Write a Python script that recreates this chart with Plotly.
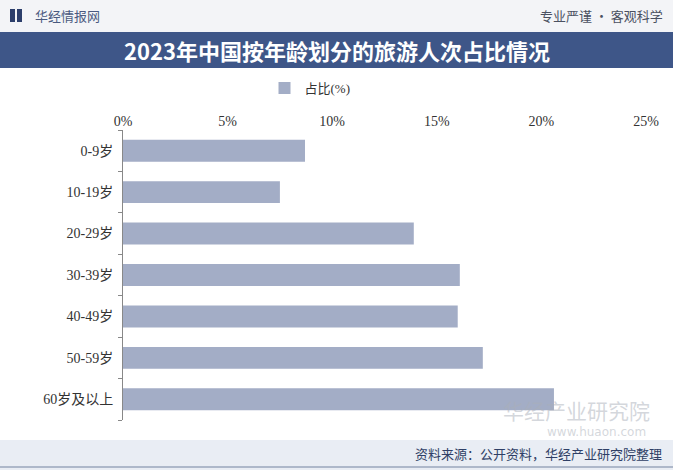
import plotly.graph_objects as go

categories = ["0-9岁", "10-19岁", "20-29岁", "30-39岁", "40-49岁", "50-59岁", "60岁及以上"]
values = [8.7, 7.5, 13.9, 16.1, 16.0, 17.2, 20.6]
series_name = "占比(%)"
x_ticks = [0, 5, 10, 15, 20, 25]
x_tick_labels = ["0%", "5%", "10%", "15%", "20%", "25%"]

title_text = "2023年中国按年龄划分的旅游人次占比情况"
source_text = "资料来源：公开资料，华经产业研究院整理"

W, H = 673, 470
L, R, T, B = 123, 27, 130, 50
PW, PH = W - L - R, H - T - B
bar_color = "#a3adc6"
navy = "#3e5688"
font_fam = "Liberation Serif, Noto Sans CJK SC, serif"

fig = go.Figure()
fig.add_trace(go.Bar(
    y=categories, x=values, orientation="h", name=series_name,
    marker=dict(color=bar_color, line=dict(width=0)),
    showlegend=True,
))

def px_x(p):
    return (p - L) / PW

def px_y(p):
    return (H - B - p) / PH

shapes = [
    dict(type="rect", xref="paper", yref="paper", x0=px_x(0), x1=px_x(W), y0=px_y(32), y1=px_y(0),
         fillcolor="#f3f4f7", line=dict(width=0), layer="below"),
    dict(type="rect", xref="paper", yref="paper", x0=px_x(0), x1=px_x(W), y0=px_y(68), y1=px_y(32),
         fillcolor=navy, line=dict(width=0), layer="below"),
    dict(type="rect", xref="paper", yref="paper", x0=px_x(0), x1=px_x(W), y0=px_y(H), y1=px_y(440),
         fillcolor="#e9edf4", line=dict(width=0), layer="below"),
    dict(type="line", xref="paper", yref="paper", x0=px_x(0), x1=px_x(W), y0=px_y(467), y1=px_y(467),
         line=dict(color="#9aa6bd", width=1.5)),
    dict(type="rect", xref="paper", yref="paper", x0=px_x(10), x1=px_x(15), y0=px_y(22), y1=px_y(9),
         fillcolor="#2c3e6b", line=dict(width=0)),
    dict(type="rect", xref="paper", yref="paper", x0=px_x(17), x1=px_x(22), y0=px_y(22), y1=px_y(9),
         fillcolor="#2c3e6b", line=dict(width=0)),
]

annotations = [
    dict(text="华经情报网", xref="paper", yref="paper", x=px_x(33), y=px_y(15),
         xanchor="left", yanchor="middle", showarrow=False,
         font=dict(family="Noto Sans CJK SC", size=13, color="#4a5a80")),
    dict(text="专业严谨 • 客观科学", xref="paper", yref="paper", x=px_x(665), y=px_y(15),
         xanchor="right", yanchor="middle", showarrow=False,
         font=dict(family="Noto Sans CJK SC", size=13, color="#4a5060")),
    dict(text="<b>" + title_text + "</b>", xref="paper", yref="paper", x=px_x(337), y=px_y(50),
         xanchor="center", yanchor="middle", showarrow=False,
         font=dict(family="Noto Sans CJK SC", size=22, color="white")),
    dict(text="华经产业研究院", xref="paper", yref="paper", x=px_x(652), y=px_y(410),
         xanchor="right", yanchor="middle", showarrow=False,
         font=dict(family="Noto Sans CJK SC", size=21, color="rgba(170,175,185,0.5)")),
    dict(text="www.huaon.com", xref="paper", yref="paper", x=px_x(648), y=px_y(432),
         xanchor="right", yanchor="middle", showarrow=False,
         font=dict(family="DejaVu Sans", size=12, color="rgba(170,175,185,0.5)")),
    dict(text=source_text, xref="paper", yref="paper", x=px_x(664), y=px_y(453),
         xanchor="right", yanchor="middle", showarrow=False,
         font=dict(family="Noto Sans CJK SC", size=13, color="#2f3f66")),
]

fig.update_layout(
    width=W, height=H,
    margin=dict(l=L, r=R, t=T, b=B, pad=0),
    paper_bgcolor="white", plot_bgcolor="rgba(0,0,0,0)",
    bargap=0.47,
    shapes=shapes, annotations=annotations,
    legend=dict(orientation="h", x=310 / W, y=1 - 88 / H, xanchor="center", yanchor="middle",
                xref="container", yref="container",
                font=dict(family=font_fam, size=13, color="#333"),
                bgcolor="rgba(0,0,0,0)", itemwidth=30),
    xaxis=dict(range=[0, 25], side="top", tickvals=x_ticks, ticktext=x_tick_labels,
               showgrid=False, zeroline=False, showline=False, ticks="",
               tickfont=dict(family=font_fam, size=14, color="#333"),
               fixedrange=True),
    yaxis=dict(categoryorder="array", categoryarray=categories[::-1],
               showgrid=False, zeroline=False, showline=True, linecolor="#888", linewidth=1,
               ticks="outside", tickson="boundaries", ticklen=4, tickcolor="#888",
               tickfont=dict(family=font_fam, size=14, color="#333"), ticklabelstandoff=6,
               fixedrange=True),
)

fig.write_html("out.html", config={"displayModeBar": False})
with open("out.html", "r", encoding="utf-8") as f:
    html = f.read()
html = html.replace("<head>", "<head><style>html,body{margin:0;padding:0;overflow:hidden;}</style>", 1)
with open("out.html", "w", encoding="utf-8") as f:
    f.write(html)
